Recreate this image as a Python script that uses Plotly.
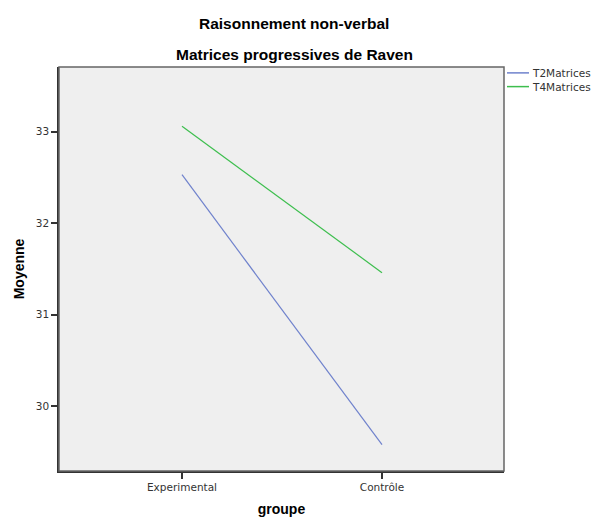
import plotly.graph_objects as go

categories = ["Experimental", "Contrôle"]
t2_values = [32.53, 29.58]
t4_values = [33.06, 31.46]
series_names = ["T2Matrices", "T4Matrices"]
series_colors = ["#6F82CC", "#3DBE4E"]
y_ticks = [30, 31, 32, 33]

W, H = 594, 527
L, R, T, B = 59, 90, 67, 48
pw, ph = W - L - R, H - T - B

def py(yp):
    return (H - B - yp) / ph

def px(xp):
    return (xp - L) / pw

fig = go.Figure()
for name, vals, col in zip(series_names, [t2_values, t4_values], series_colors):
    fig.add_trace(go.Scatter(x=categories, y=vals, mode="lines", name=name,
                             line=dict(color=col, width=1.2), showlegend=False))

shapes = [dict(type="rect", xref="paper", yref="paper", x0=0, y0=0, x1=1, y1=1,
               line=dict(color="#666666", width=1.5), fillcolor="rgba(0,0,0,0)")]
annotations = [
    dict(text="<b>Raisonnement non-verbal</b>", xref="paper", yref="paper",
         x=px(294), y=py(23), showarrow=False, xanchor="center", yanchor="middle",
         font=dict(family="Liberation Sans", size=15.5, color="black")),
    dict(text="<b>Matrices progressives de Raven</b>", xref="paper", yref="paper",
         x=px(294), y=py(54), showarrow=False, xanchor="center", yanchor="middle",
         font=dict(family="Liberation Sans", size=15.5, color="black")),
]
# legend drawn as keys
for i, (name, col) in enumerate(zip(series_names, series_colors)):
    yy = 73 + i * 14
    shapes.append(dict(type="line", xref="paper", yref="paper",
                       x0=px(507), x1=px(529), y0=py(yy), y1=py(yy),
                       line=dict(color=col, width=1.5)))
    annotations.append(dict(text=name, xref="paper", yref="paper", x=px(530), y=py(yy),
                            xanchor="left", yanchor="middle", showarrow=False,
                            font=dict(family="DejaVu Sans", size=10.5, color="#333333")))

fig.update_layout(
    width=W, height=H,
    margin=dict(l=L, r=R, t=T, b=B),
    paper_bgcolor="white",
    plot_bgcolor="#EFEFEF",
    showlegend=False,
    xaxis=dict(type="category", range=[-0.615, 1.61], showgrid=False,
               showline=True, linecolor="#333333", linewidth=1.5,
               ticks="outside", ticklen=6, tickwidth=1.5, tickcolor="#333333",
               tickfont=dict(family="DejaVu Sans", size=10.5, color="#333333"),
               title=dict(text="<b>groupe</b>", font=dict(family="Liberation Sans", size=14, color="black"),
                          standoff=12),
               zeroline=False),
    yaxis=dict(range=[29.293, 33.707], tickvals=y_ticks, showgrid=False,
               showline=True, linecolor="#333333", linewidth=1.5,
               ticks="outside", ticklen=6, tickwidth=1.5, tickcolor="#333333",
               tickfont=dict(family="DejaVu Sans", size=10.5, color="#333333"),
               title=dict(text="<b>Moyenne</b>", font=dict(family="Liberation Sans", size=14, color="black"),
                          standoff=8),
               zeroline=False),
    shapes=shapes,
    annotations=annotations,
)

fig.write_html("out.html", config={"displayModeBar": False},
               post_script="document.body.style.margin='0';document.body.style.overflow='hidden';")
